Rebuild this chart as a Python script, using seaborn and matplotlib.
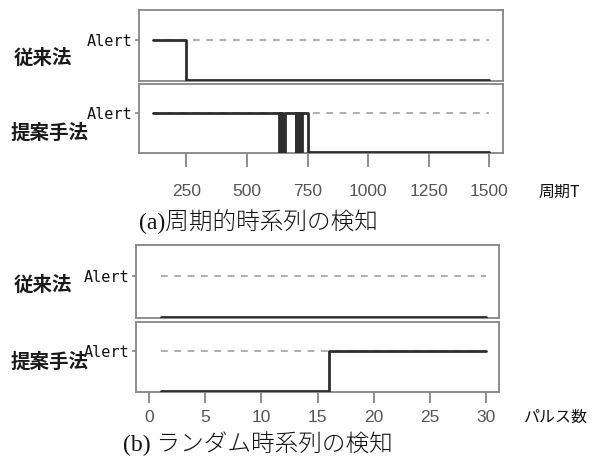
import matplotlib
matplotlib.use("Agg")
import matplotlib.pyplot as plt
import seaborn as sns
import pandas as pd

# ---------------- data ----------------
period_conv_T = [110, 250, 1500]
period_conv_alert = [1, 0, 0]

period_prop_T = [110, 630, 635, 640, 645, 650, 655, 700, 703, 706, 709, 712,
                 715, 718, 721, 724, 727, 750, 1500]
period_prop_alert = [1, 0, 1, 0, 1, 0, 1, 0, 1, 0, 1, 0,
                     1, 0, 1, 0, 1, 0, 0]

pulse_conv_n = [1, 30]
pulse_conv_alert = [0, 0]

pulse_prop_n = [1, 16, 30]
pulse_prop_alert = [0, 1, 1]

period_ticks = [250, 500, 750, 1000, 1250, 1500]
pulse_ticks = [0, 5, 10, 15, 20, 25, 30]

row_labels = ["従来法", "提案手法"]
alert_label = "Alert"
period_xlabel = "周期T"
pulse_xlabel = "パルス数"
caption_a = "(a)周期的時系列の検知"
caption_b = "(b) ランダム時系列の検知"

# ---------------- style ----------------
sns.set_theme(style="white")
plt.rcParams["font.family"] = ["Liberation Sans", "Noto Sans CJK JP", "DejaVu Sans"]

W, H = 600, 466
fig = plt.figure(figsize=(W / 100, H / 100), dpi=100)


def px_axes(left, top, right, bottom):
    return fig.add_axes([left / W, 1 - bottom / H, (right - left) / W, (bottom - top) / H])


SPINE = "#858585"
LINE = "#2e2e2e"
DASH = "#b0b0b0"


def draw_panel(ax, x, y, xlim, ticks, show_x, tlen=10, tpad=11):
    df = pd.DataFrame({"x": x, "y": y})
    ax.hlines(1, x[0], x[-1], colors=DASH, linestyles=(0, (3.2, 3.2)), lw=1.5, zorder=1)
    sns.lineplot(data=df, x="x", y="y", ax=ax, drawstyle="steps-post", estimator=None,
                 sort=False, color=LINE, lw=2.0, zorder=3)
    ax.set_xlim(*xlim)
    ax.set_ylim(-0.03, 1.75)
    ax.set_xlabel("")
    ax.set_ylabel("")
    ax.set_yticks([1])
    ax.set_yticklabels([alert_label], family=["DejaVu Sans Mono"],
                       fontsize=11, color="#111111")
    ax.tick_params(axis="y", left=True, length=3, width=1.2, color=SPINE, pad=2)
    for s in ax.spines.values():
        s.set_color(SPINE)
        s.set_linewidth(1.3)
    if show_x:
        ax.set_xticks(ticks)
        ax.set_xticklabels([str(t) for t in ticks])
        ax.tick_params(axis="x", bottom=True, length=tlen, width=1.3, color=SPINE, pad=tpad,
                       labelsize=12.5, labelcolor="#555555")
    else:
        ax.set_xticks([])


# (a) periodic
ax1 = px_axes(139, 10, 503, 81)
ax2 = px_axes(139, 84, 503, 153)
draw_panel(ax1, period_conv_T, period_conv_alert, (54, 1556), period_ticks, False)
draw_panel(ax2, period_prop_T, period_prop_alert, (54, 1556), period_ticks, True,
           tlen=10, tpad=12)

# (b) random
ax3 = px_axes(136, 245, 499, 318)
ax4 = px_axes(136, 322, 499, 392)
draw_panel(ax3, pulse_conv_n, pulse_conv_alert, (-1.2, 31.2), pulse_ticks, False)
draw_panel(ax4, pulse_prop_n, pulse_prop_alert, (-1.2, 31.2), pulse_ticks, True,
           tlen=8, tpad=5)


def ftext(x, y, s, **kw):
    fig.text(x / W, 1 - y / H, s, ha="center", va="center", **kw)


cjk_bold = dict(family=["Noto Sans CJK JP"], fontsize=14, fontweight="bold", color="#1a1a1a")
ftext(43, 58, row_labels[0], **cjk_bold)
ftext(50, 133, row_labels[1], **cjk_bold)
ftext(43, 285, row_labels[0], **cjk_bold)
ftext(50, 362, row_labels[1], **cjk_bold)

ftext(559, 192, period_xlabel, family=["Noto Sans CJK JP"], fontsize=11.5, color="#111111")
ftext(556, 417, pulse_xlabel, family=["Noto Sans CJK JP"], fontsize=11.5, color="#111111")

cap = dict(family=["Liberation Serif", "Noto Sans CJK JP"], fontsize=17, color="#111111",
           fontweight="light")
ftext(258, 222, caption_a, **cap)
ftext(258, 444, caption_b, **cap)

fig.savefig("out.png", dpi=100, facecolor="white")
